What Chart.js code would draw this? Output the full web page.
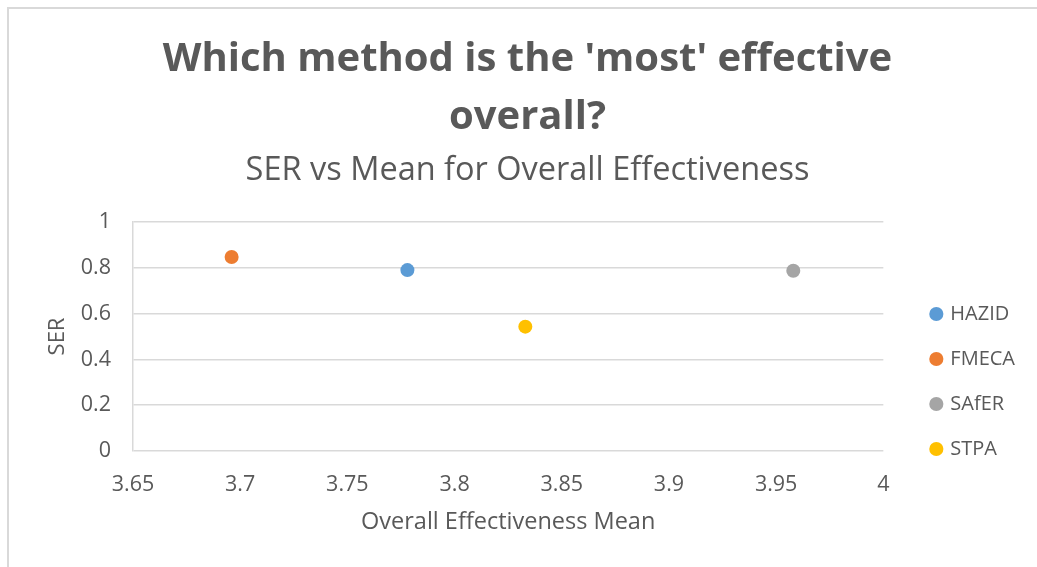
<!DOCTYPE html>
<html>
<head>
<meta charset="utf-8">
<script src="https://cdn.jsdelivr.net/npm/chart.js@4.4.1/dist/chart.umd.min.js"></script>
<style>
  html, body { margin: 0; padding: 0; background: #ffffff; }
  #wrap { position: relative; width: 1037px; height: 567px; overflow: hidden; }
  #frame { position: absolute; left: 7px; top: 7px; width: 1100px; height: 700px;
           border-left: 2px solid #d9d9d9; border-top: 2px solid #d9d9d9; box-sizing: border-box; }
  canvas { position: absolute; left: 0; top: 0; }
</style>
</head>
<body>
<div id="wrap">
  <div id="frame"></div>
  <canvas id="c" width="1037" height="567"></canvas>
</div>
<script>
// ---- data ----
const categories = ['HAZID', 'FMECA', 'SAfER', 'STPA'];
const meanValues = [3.778, 3.696, 3.958, 3.833];
const serValues = [0.79, 0.847, 0.787, 0.543];
const xTickLabels = ['3.65', '3.7', '3.75', '3.8', '3.85', '3.9', '3.95', '4'];
const yTickLabels = ['0', '0.2', '0.4', '0.6', '0.8', '1'];
const titleLines = ["Which method is the 'most' effective", 'overall?'];
const subtitleText = 'SER vs Mean for Overall Effectiveness';
const xTitle = 'Overall Effectiveness Mean';
const yTitle = 'SER';

// ---- styles ----
const palette = ['#5B9BD5', '#ED7D31', '#A5A5A5', '#FFC000'];
const FONT = "'Open Sans', 'DejaVu Sans', sans-serif";
const TXT = '#595959';
const GRID = '#d9d9d9';

const datasets = categories.map((name, i) => ({
  label: name,
  data: [{ x: meanValues[i], y: serValues[i] }],
  backgroundColor: palette[i],
  borderColor: palette[i],
  pointRadius: 7,
  pointHoverRadius: 7,
  pointBorderWidth: 0
}));

new Chart(document.getElementById('c'), {
  type: 'scatter',
  data: { datasets },
  options: {
    responsive: false,
    animation: false,
    devicePixelRatio: 1,
    layout: { padding: { left: 30, right: 12, top: 0, bottom: 0 } },
    plugins: {
      tooltip: { enabled: false },
      title: {
        display: true,
        text: titleLines,
        color: TXT,
        font: { family: FONT, size: 40, weight: 'bold', lineHeight: 1.45 },
        padding: { top: 31, bottom: 0 }
      },
      subtitle: {
        display: true,
        text: subtitleText,
        color: TXT,
        font: { family: FONT, size: 32.5, weight: 'normal', lineHeight: 1.2 },
        padding: { top: 4, bottom: 32 }
      },
      legend: {
        display: true,
        position: 'right',
        align: 'start',
        title: { display: true, text: ' ', font: { size: 12, lineHeight: 1.2 }, padding: { top: 264.6, bottom: 0 } },
        labels: {
          usePointStyle: true,
          pointStyle: 'circle',
          boxWidth: 8,
          boxHeight: 10,
          padding: 25,
          color: TXT,
          font: { family: FONT, size: 20 }
        }
      }
    },
    scales: {
      x: {
        type: 'linear',
        position: 'bottom',
        min: 3.65,
        max: 4,
        ticks: {
          stepSize: 0.05,
          color: TXT,
          font: { family: FONT, size: 21.5 },
          padding: 21,
          maxRotation: 0,
          autoSkip: false,
          callback: (v, i) => xTickLabels[i]
        },
        grid: { display: false, drawTicks: false },
        border: { display: false },
        title: {
          display: true,
          text: xTitle,
          color: TXT,
          font: { family: FONT, size: 23.5 },
          padding: { top: 0, bottom: 30.9 }
        },
        afterFit: (s) => { s.height = 116; }
      },
      y: {
        type: 'linear',
        position: 'left',
        min: 0,
        max: 1,
        ticks: {
          stepSize: 0.2,
          color: TXT,
          font: { family: FONT, size: 21.5 },
          padding: 22,
          callback: (v, i) => yTickLabels[i]
        },
        grid: { color: GRID, lineWidth: 1.5, drawTicks: false },
        border: { display: true, color: GRID, width: 1.5 },
        title: {
          display: true,
          text: yTitle,
          color: TXT,
          font: { family: FONT, size: 22 },
          padding: { top: 14.5, bottom: 0 }
        },
        afterFit: (s) => { s.width = 103; }
      },
      gap: {
        type: 'linear',
        position: 'right',
        display: true,
        ticks: { display: false },
        grid: { display: false, drawTicks: false },
        border: { display: false },
        afterFit: (s) => { s.width = 24; }
      }
    }
  }
});
</script>
</body>
</html>
